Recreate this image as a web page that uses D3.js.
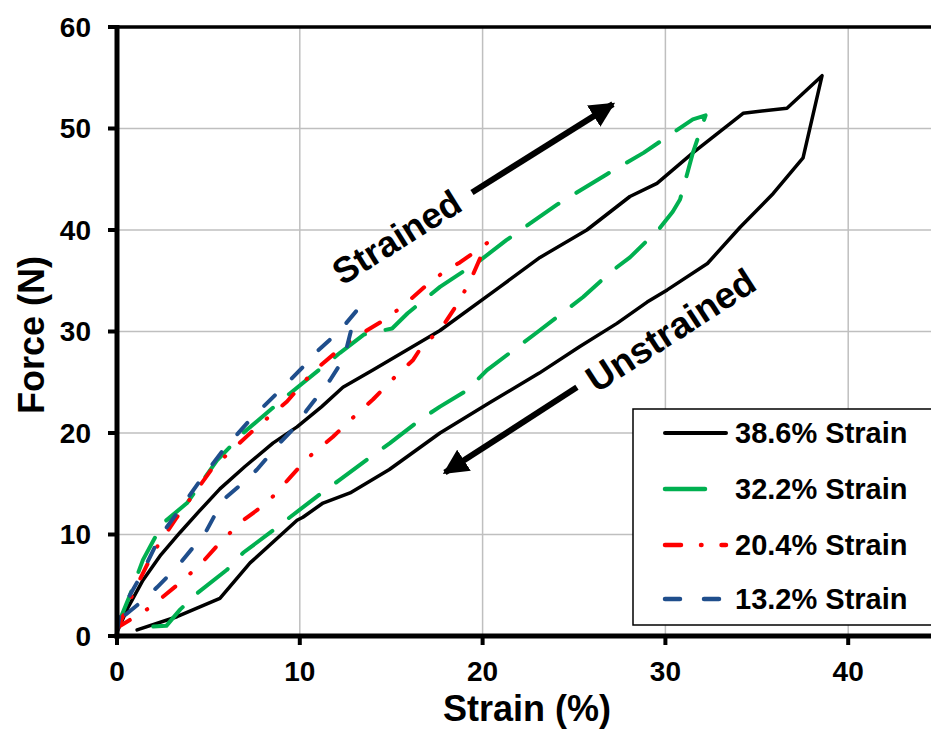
<!DOCTYPE html>
<html>
<head>
<meta charset="utf-8">
<script src="https://cdn.jsdelivr.net/npm/d3@7/dist/d3.min.js"></script>
<style>
  html, body { margin: 0; padding: 0; background: #fff; }
  svg { display: block; font-family: "Liberation Sans", Arial, sans-serif; }
</style>
</head>
<body>
<svg id="chart" width="931" height="731"></svg>
<script>
// ---------------- DATA ----------------
const xTicks = [0, 10, 20, 30, 40];
const yTicks = [0, 10, 20, 30, 40, 50, 60];

const seriesNames = ["38.6% Strain", "32.2% Strain", "20.4% Strain", "13.2% Strain"];

// 38.6% strain (loading then unloading)
const strain386 = [0, 0.6, 1.42, 2.4, 3.45, 4.5, 5.63, 7.0, 8.53, 9.85, 11.2, 12.36, 14.0, 17.67, 20.95, 23.14, 25.7, 28.06, 29.54, 31.5, 34.25, 36.65, 38.57,
                   37.53, 35.9, 34.1, 32.3, 30.1, 29.0, 27.35, 25.3, 23.1, 20.4, 17.67, 14.9, 12.75, 11.27, 10.17, 9.85, 7.28, 5.63, 3.28, 1.1];
const force386  = [0.4, 2.8, 5.5, 8.0, 10.2, 12.3, 14.5, 16.7, 19.0, 20.6, 22.6, 24.5, 26.2, 30.1, 34.4, 37.3, 40.0, 43.3, 44.6, 47.6, 51.5, 52.0, 55.2,
                   47.1, 43.6, 40.3, 36.7, 34.1, 32.9, 30.8, 28.5, 25.9, 23.0, 20.0, 16.4, 14.1, 13.1, 11.7, 11.4, 7.2, 3.7, 1.9, 0.6];

// 32.2% strain
const strain322 = [0, 0.7, 1.42, 2.5, 3.83, 5.47, 6.9, 9.46, 12.2, 13.5, 15.05, 15.9, 17.67, 18.6, 19.86, 21.3, 24.07, 26.8, 28.8, 29.7, 31.5, 32.2,
                   31.5, 31.2, 30.8, 30.4, 29.7, 28.06, 27.1, 25.5, 22.97, 20.24, 19.15, 17.67, 16.58, 14.93, 14.0, 12.2, 11.27, 9.46, 8.53, 6.9, 6.0, 4.38, 3.45, 2.7, 1.64];
const force322  = [0.9, 4.0, 7.5, 11.1, 13.1, 17.3, 20.0, 23.9, 27.9, 29.7, 30.3, 31.8, 34.4, 35.5, 37.0, 39.0, 42.5, 45.5, 47.6, 48.7, 50.9, 51.3,
                   47.6, 45.6, 43.0, 41.8, 40.2, 37.3, 36.0, 33.4, 29.9, 26.2, 24.2, 22.6, 21.3, 19.0, 17.8, 15.4, 14.2, 11.7, 10.4, 8.2, 6.5, 4.2, 2.6, 1.0, 0.9];

// 20.4% strain
const strain204 = [0, 0.88, 1.97, 3.28, 5.25, 7.66, 9.3, 10.7, 12.6, 13.3, 14.4, 15.5, 16.96, 18.05, 18.76, 19.7, 20.3,
                   20.24, 19.86, 19.4, 18.76, 17.67, 16.74, 16.2, 15.3, 14.0, 12.9, 11.8, 10.4, 9.46, 8.2, 6.9, 5.63, 4.54, 3.28, 1.8, 0];
const force204  = [0.6, 4.2, 8.2, 11.7, 16.6, 20.6, 23.1, 26.0, 28.9, 29.7, 30.9, 32.3, 34.6, 36.1, 36.8, 38.0, 38.8,
                   38.3, 37.2, 35.3, 33.1, 30.1, 28.7, 27.2, 25.7, 23.3, 21.5, 19.6, 17.5, 15.6, 13.1, 11.4, 9.2, 7.0, 5.0, 2.8, 0.8];

// 13.2% strain
const strain132 = [0, 0.16, 1.26, 2.35, 3.28, 4.7, 5.8, 7.28, 9.08, 10.17, 10.56, 12.2, 13.13,
                   12.9, 12.58, 12.36, 11.65, 11.1, 10.4, 9.85, 8.9, 7.66, 6.9, 5.8, 4.9, 4.38, 3.28, 2.19, 1.42, 0.33, 0];
const force132  = [0.4, 2.3, 5.8, 9.8, 12.1, 15.7, 18.3, 21.3, 24.5, 26.5, 27.4, 30.1, 32.1,
                   30.8, 28.5, 27.2, 25.2, 23.9, 22.3, 20.8, 19.0, 16.4, 15.1, 13.4, 10.4, 9.2, 6.8, 4.8, 3.5, 1.9, 0.6];

// annotations (data coordinates)
const annStrained   = { text: "Strained",   x: 15.3,  y: 39.3, from: [19.42, 43.7], to: [27.13, 52.4] };
const annUnstrained = { text: "Unstrained", x: 30.3,  y: 30.1, from: [25.16, 24.5], to: [17.94, 16.1] };

// ---------------- STYLES ----------------
const styles = [
  { color: "#000000", width: 3.5, dash: null },
  { color: "#00B050", width: 4,   dash: "38,21" },
  { color: "#FF0000", width: 4,   dash: "16,20,0.5,20" },
  { color: "#1F4E8C", width: 4,   dash: "15,24" }
];

const seriesData = [
  d3.zip(strain386, force386),
  d3.zip(strain322, force322),
  d3.zip(strain204, force204),
  d3.zip(strain132, force132)
];

// ---------------- CHART ----------------
const svg = d3.select("#chart");
const x = d3.scaleLinear().domain([0, 45]).range([117, 117 + 45 * 18.28]);
const y = d3.scaleLinear().domain([0, 60]).range([636, 27]);

// defs
const defs = svg.append("defs");
defs.append("clipPath").attr("id", "plotClip")
  .append("rect").attr("x", x(0)).attr("y", y(60)).attr("width", x(45) - x(0)).attr("height", y(0) - y(60));
defs.append("marker").attr("id", "arrowHead")
  .attr("viewBox", "0 0 10 10").attr("refX", 9).attr("refY", 5)
  .attr("markerWidth", 4.2).attr("markerHeight", 4.2).attr("markerUnits", "strokeWidth")
  .attr("orient", "auto")
  .append("path").attr("d", "M0,0 L10,5 L0,10 Z").attr("fill", "#000");

// gridlines
const grid = svg.append("g");
grid.selectAll("line.v").data(xTicks.filter(d => d > 0)).join("line")
  .attr("x1", d => x(d)).attr("x2", d => x(d)).attr("y1", y(0)).attr("y2", y(60))
  .attr("stroke", "#bfbfbf").attr("stroke-width", 1.5);
grid.selectAll("line.h").data(yTicks.filter(d => d > 0 && d < 60)).join("line")
  .attr("x1", x(0)).attr("x2", 931).attr("y1", d => y(d)).attr("y2", d => y(d))
  .attr("stroke", "#bfbfbf").attr("stroke-width", 1.5);

// top border
svg.append("line").attr("x1", x(0)).attr("x2", 931).attr("y1", y(60)).attr("y2", y(60))
  .attr("stroke", "#000").attr("stroke-width", 3.5);

// series
const lineGen = d3.line().x(d => x(d[0])).y(d => y(d[1])).curve(d3.curveLinear);
const plot = svg.append("g").attr("clip-path", "url(#plotClip)");
seriesData.forEach((data, i) => {
  plot.append("path").datum(data)
    .attr("d", lineGen)
    .attr("fill", "none")
    .attr("stroke", styles[i].color)
    .attr("stroke-width", styles[i].width)
    .attr("stroke-linecap", "round")
    .attr("stroke-linejoin", "round")
    .attr("stroke-dasharray", styles[i].dash);
});

// annotations
[annStrained, annUnstrained].forEach(a => {
  const ang = Math.atan2(y(a.to[1]) - y(a.from[1]), x(a.to[0]) - x(a.from[0]));
  let deg = ang * 180 / Math.PI;
  if (deg > 90) deg -= 180;
  if (deg < -90) deg += 180;
  svg.append("line")
    .attr("x1", x(a.from[0])).attr("y1", y(a.from[1]))
    .attr("x2", x(a.to[0])).attr("y2", y(a.to[1]))
    .attr("stroke", "#000").attr("stroke-width", 6)
    .attr("marker-end", "url(#arrowHead)");
  svg.append("text")
    .attr("transform", `translate(${x(a.x)},${y(a.y)}) rotate(${deg})`)
    .attr("text-anchor", "middle").attr("dominant-baseline", "central")
    .attr("font-size", a.text === "Unstrained" ? 37 : 36).attr("font-weight", "bold").attr("fill", "#000")
    .text(a.text);
});

// axes lines
svg.append("line").attr("x1", x(0)).attr("x2", x(0)).attr("y1", y(60) - 2).attr("y2", y(0) + 2.5)
  .attr("stroke", "#000").attr("stroke-width", 5);
svg.append("line").attr("x1", x(0) - 2.5).attr("x2", 931).attr("y1", y(0)).attr("y2", y(0))
  .attr("stroke", "#000").attr("stroke-width", 5);

// ticks
svg.selectAll("line.yt").data(yTicks).join("line")
  .attr("x1", x(0) - 9).attr("x2", x(0)).attr("y1", d => y(d)).attr("y2", d => y(d))
  .attr("stroke", "#000").attr("stroke-width", 4);
svg.selectAll("line.xt").data(xTicks).join("line")
  .attr("x1", d => x(d)).attr("x2", d => x(d)).attr("y1", y(0)).attr("y2", y(0) + 9)
  .attr("stroke", "#000").attr("stroke-width", 4);

// tick labels
svg.selectAll("text.yl").data(yTicks).join("text")
  .attr("x", 91).attr("y", d => y(d)).attr("text-anchor", "end").attr("dominant-baseline", "central")
  .attr("font-size", 28).attr("font-weight", "bold").text(d => d);
svg.selectAll("text.xl").data(xTicks).join("text")
  .attr("x", d => x(d)).attr("y", 681).attr("text-anchor", "middle")
  .attr("font-size", 28).attr("font-weight", "bold").text(d => d);

// axis titles
svg.append("text").attr("x", 527).attr("y", 721).attr("text-anchor", "middle")
  .attr("font-size", 36).attr("font-weight", "bold").text("Strain (%)");
svg.append("text").attr("transform", "translate(44,335) rotate(-90)").attr("text-anchor", "middle")
  .attr("font-size", 36).attr("font-weight", "bold").text("Force (N)");

// legend
const lg = svg.append("g");
lg.append("rect").attr("x", 633).attr("y", 409).attr("width", 310).attr("height", 216)
  .attr("fill", "#fff").attr("stroke", "#000").attr("stroke-width", 1.5);
const rowY = [433, 489, 545, 599];
seriesNames.forEach((name, i) => {
  lg.append("line").attr("x1", 665).attr("x2", 726).attr("y1", rowY[i]).attr("y2", rowY[i])
    .attr("stroke", styles[i].color).attr("stroke-width", styles[i].width + 0.5)
    .attr("stroke-linecap", "round")
    .attr("stroke-dasharray", i === 1 ? "40,100" : styles[i].dash);
  lg.append("text").attr("x", 735).attr("y", rowY[i]).attr("dominant-baseline", "central")
    .attr("font-size", 29).attr("font-weight", "bold").text(name);
});
</script>
</body>
</html>
